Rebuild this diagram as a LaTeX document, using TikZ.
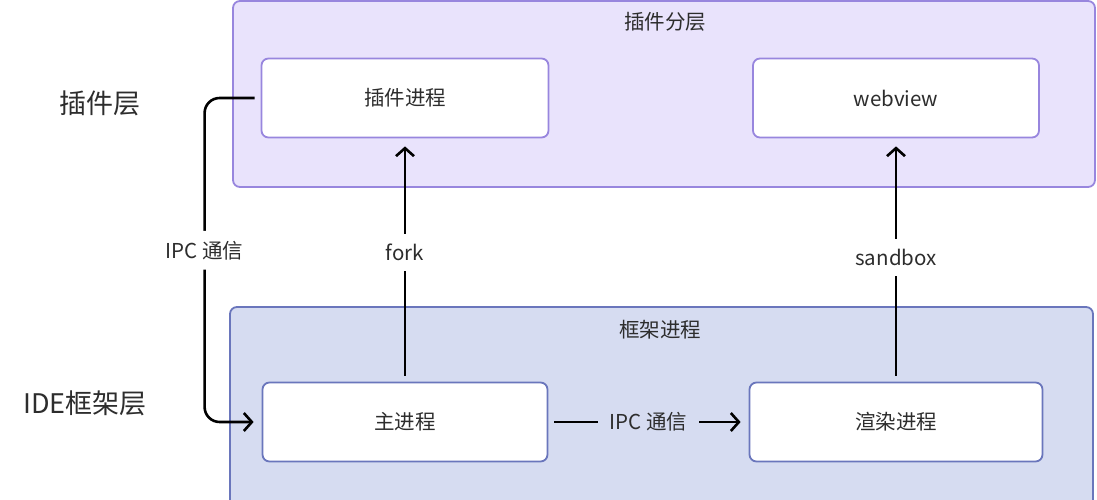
\documentclass[tikz,border=0pt]{standalone}
\usepackage{fontspec}
\newfontfamily\cjk{Noto Sans CJK SC}
\usetikzlibrary{arrows.meta,positioning}
\definecolor{plugfill}{RGB}{233,227,252}
\definecolor{plugline}{RGB}{152,134,222}
\definecolor{idefill}{RGB}{214,220,241}
\definecolor{ideline}{RGB}{106,118,188}
\definecolor{txt}{RGB}{45,45,45}

\begin{document}
\begin{tikzpicture}[x=1pt,y=-1pt]

	\tikzstyle{every node}=[font=\cjk\fontsize{20.5}{24}\selectfont, text=txt]
	\tikzstyle{layer}=[line width=1.8pt, rounded corners=7pt]
	\tikzstyle{proc}=[draw, fill=white, rounded corners=7pt, line width=1.8pt, minimum height=79pt, inner sep=0pt]
	\tikzstyle{conn}=[line width=2.6pt, -{Straight Barb[length=8pt,width=18pt]}, shorten >=8pt, shorten <=6pt]
	\tikzstyle{tag}=[fill=white, inner xsep=9pt, inner ysep=10pt]
	\tikzstyle{side}=[font=\cjk\fontsize{27}{30}\selectfont]

	\useasboundingbox (0,0) rectangle (1097,500);

	% layers
	\draw[layer, fill=plugfill, draw=plugline] (233,1) rectangle (1095,187);
	\draw[layer, fill=idefill, draw=ideline] (230,307) rectangle (1093,530);

	\node (plugtitle) at (665,22) {插件分层};
	\node (idetitle) at (660,330) {框架进程};

	\node[side] (plugside) at (100,103) {插件层};
	\node[side] (ideside) at (85,403) {IDE框架层};

	% processes
	\node[proc, draw=plugline, minimum width=287pt] (plugin) at (405,98) {插件进程};
	\node[proc, draw=plugline, minimum width=286pt] (webview) at (896,98) {webview};
	\node[proc, draw=ideline, minimum width=285pt] (main) at (405,422) {主进程};
	\node[proc, draw=ideline, minimum width=293pt] (render) at (896,422) {渲染进程};

	% connections
	\draw[conn] (main) -- node[tag, pos=0.53] {fork} (plugin);
	\draw[conn] (render) -- node[tag, pos=0.51] {sandbox} (webview);
	\draw[conn] (main) -- node[tag, fill=idefill, inner xsep=12pt] {IPC 通信} (render);
	\draw[conn, rounded corners=15pt] (plugin.west) -- ++(-56,0) |- node[tag, pos=0.235] {IPC 通信} (main.west);

\end{tikzpicture}
\end{document}
